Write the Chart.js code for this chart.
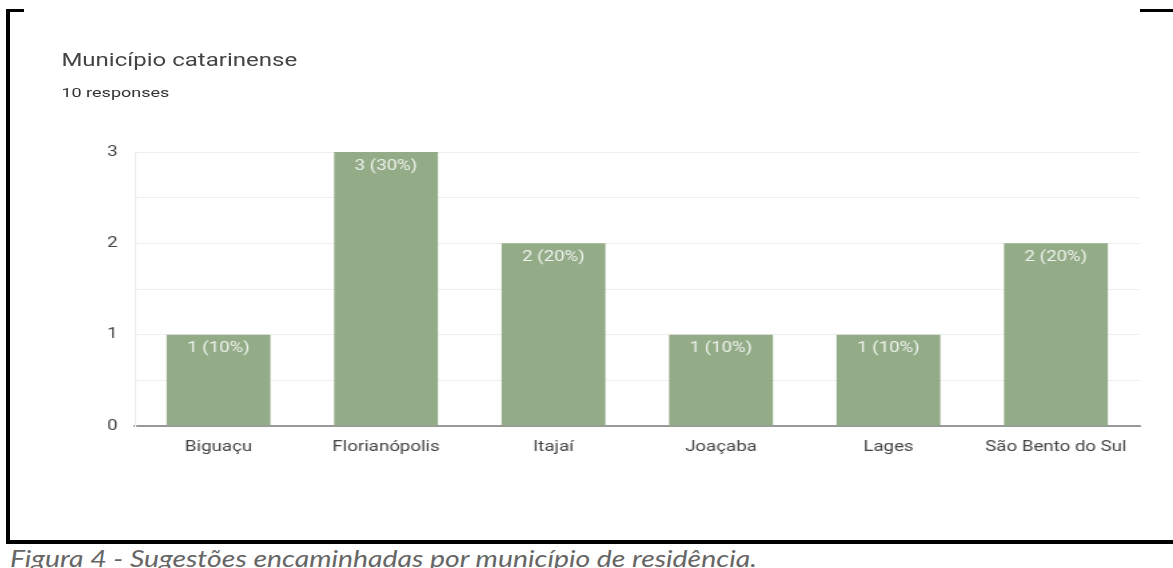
<!DOCTYPE html>
<html>
<head>
<meta charset="utf-8">
<script src="https://cdn.jsdelivr.net/npm/chart.js@4"></script>
<style>
  body { margin: 0; background: #fff; width: 1173px; height: 568px; overflow: hidden; position: relative; font-family: Roboto, "Liberation Sans", sans-serif; }
  /* the whole chart block is stretched sideways in the reference */
  #wrap { position: absolute; left: 0; top: 0; width: 879px; height: 568px; transform: scaleX(1.3345); transform-origin: 0 0; }
  .ln { position: absolute; background: #000; }
  #title { position: absolute; left: 46px; top: 49px; font-size: 18px; color: #444; white-space: nowrap; }
  #sub { position: absolute; left: 46px; top: 84px; font-size: 13.5px; color: #333; white-space: nowrap; }
  #caption { position: absolute; left: 10px; top: 543px; font-size: 24px; font-style: italic; color: #666; font-family: Lato, "Open Sans", sans-serif; white-space: nowrap; transform-origin: 0 0; }
</style>
</head>
<body>
<div class="ln" style="left:6px;top:9px;width:4px;height:535px"></div>
<div class="ln" style="left:6px;top:9px;width:18px;height:3px"></div>
<div class="ln" style="left:1140px;top:9px;width:33px;height:3px"></div>
<div class="ln" style="left:6px;top:540px;width:1167px;height:4px"></div>
<div id="caption">Figura 4 - Sugestões encaminhadas por município de residência.</div>
<div id="wrap">
  <div id="title">Município catarinense</div>
  <div id="sub">10 responses</div>
  <canvas id="canvas1" width="879" height="568" style="position:absolute;left:0;top:0;width:879px;height:568px"></canvas>
</div>
<script>
/* data */

var municipios = ['Biguaçu', 'Florianópolis', 'Itajaí', 'Joaçaba', 'Lages', 'São Bento do Sul'];
var respostas = [1, 3, 2, 1, 1, 2];
var percentuais = ['10%', '30%', '20%', '10%', '10%', '20%'];

/* caption: fit to the width seen in the picture */
var cap = document.getElementById('caption');
cap.style.transform = 'scaleX(' + (747 / cap.offsetWidth) + ')';

/* labels inside the bars */

var barLabels = {
  id: 'barLabels',
  afterDatasetsDraw: function(chart) {
    var c = chart.ctx;
    var meta = chart.getDatasetMeta(0);
    c.save();
    c.font = '14px Roboto';
    c.fillStyle = '#eef2ec';
    c.textAlign = 'center';
    c.textBaseline = 'middle';
    for (var i = 0; i < meta.data.length; i++) {
      var bar = meta.data[i];
      c.fillText(respostas[i] + ' (' + percentuais[i] + ')', bar.x, bar.y + 14);
    }
    c.restore();
  }
};

var ctx = document.getElementById('canvas1').getContext('2d');

var myChart = new Chart(ctx, {
  type: 'bar',
  data: {
    labels: municipios,
    datasets: [{
      data: respostas,
      backgroundColor: '#93ab87',
      borderWidth: 0,
      categoryPercentage: 1,
      barPercentage: 0.62
    }]
  },
  options: {
    responsive: false,
    animation: false,
    devicePixelRatio: 1,
    layout: { padding: { left: 0, right: 25, top: 152, bottom: 0 } },
    plugins: { legend: { display: false }, tooltip: { enabled: false } },
    scales: {
      x: {
        grid: { display: false, drawTicks: false },
        border: { display: true, color: '#999', width: 2 },
        ticks: { color: '#444', font: { family: 'Roboto', size: 14 }, padding: 13, maxRotation: 0, autoSkip: false },
        afterFit: function(scale) { scale.height = 142; }
      },
      y: {
        min: 0,
        max: 3,
        grid: { color: '#eeeeee', drawTicks: false },
        border: { display: true, color: '#eeeeee' },
        ticks: {
          stepSize: 0.5,
          color: '#444',
          font: { family: 'Roboto', size: 14 },
          padding: 13,
          callback: function(v) { return Number.isInteger(v) ? v : ''; }
        },
        afterFit: function(scale) { scale.width = 101; }
      }
    }
  },
  plugins: [barLabels]
});
</script>
</body>
</html>
